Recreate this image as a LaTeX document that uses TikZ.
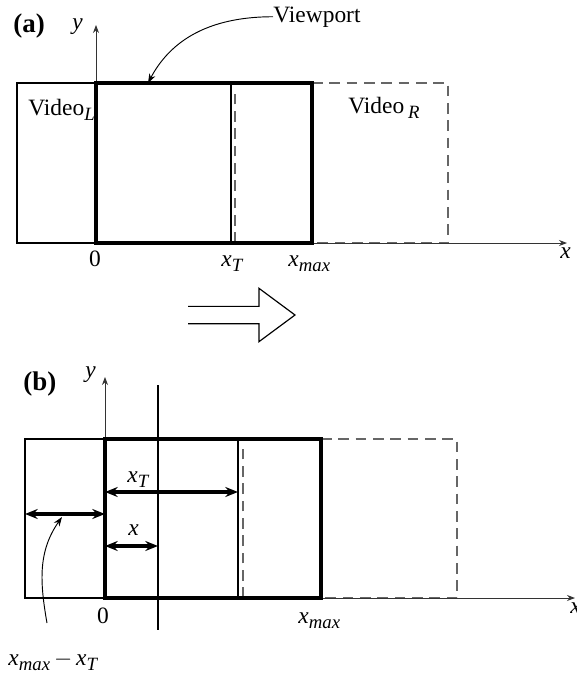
\documentclass[tikz,border=0pt]{standalone}
\usepackage{fontspec}
\setmainfont{Liberation Serif}
\usepackage{tikz}
\usetikzlibrary{
    arrows.meta,
    positioning,
    calc
}
\tikzset{
    frame/.style={
        draw=black,
        line width=0.5pt
    }
}
\tikzset{
    viewport/.style={
        draw=black,
        line width=1.4pt
    }
}
\tikzset{
    ghost/.style={
        draw=black!60,
        line width=0.5pt,
        dash pattern=on 1.6mm off 1mm
    }
}
\tikzset{
    axis/.style={
        draw=black!80,
        line width=0.4pt,
        -{Stealth[length=1.2mm,width=0.9mm]}
    }
}
\tikzset{
    pointer/.style={
        draw=black,
        line width=0.4pt,
        -{Stealth[length=1.4mm,width=1mm]}
    }
}
\tikzset{
    span/.style={
        draw=black,
        line width=1.3pt,
        {Stealth[length=1.9mm,width=1.5mm]}-{Stealth[length=1.9mm,width=1.5mm]}
    }
}
\tikzset{
    tag/.style={
        inner sep=0pt,
        anchor=base west
    }
}
\tikzset{
    panel/.style={
        inner sep=0pt,
        anchor=base west,
        font=\fontsize{11.5}{13}\selectfont\bfseries
    }
}
% lowered italic subscript, and a variable carrying one
\newcommand{\low}[1]{\raisebox{-0.55ex}{\footnotesize\itshape #1}}
\newcommand{\var}[2]{\textit{#1}\low{#2}}

\begin{document}
\begin{tikzpicture}[
    >=Stealth,
    font=\normalsize
]
\useasboundingbox (-14.4mm,36.45mm) rectangle (72.15mm,-65.1mm);

% ------------------------------------------------------------
% Panel (a): viewport at the start
% ------------------------------------------------------------

\coordinate (oa) at (0mm,0mm);
\coordinate (xenda) at (70.65mm,0mm);
\coordinate (yenda) at (0mm,32.7mm);
\coordinate (vptop) at (7.8mm,24mm);

\draw[frame] (-11.85mm,0mm) rectangle (0mm,24mm);
\draw[ghost] (32.4mm,24mm) -- (52.8mm,24mm) -- (52.8mm,0mm) -- (32.4mm,0mm);
\draw[axis] (oa) -- (xenda);
\draw[axis] (oa) -- (yenda);
\draw[frame] (20.25mm,0mm) -- (20.25mm,24mm);
\draw[ghost] (20.85mm,0mm) -- (20.85mm,23.2mm);
\draw[viewport] (oa) rectangle (32.4mm,24mm);

\node[panel] (taga) at (-12.45mm,31.65mm) {(a)};
\node[tag, font=\itshape] (ya) at (-3.6mm,32mm) {y};
\node[tag] (vidla) at (-10.2mm,19.2mm) {Video\low{L}};
\node[tag] (vidra) at (37.8mm,19.5mm) {Video\,\low{R}};
\node[tag] (vp) at (26.55mm,33.15mm) {Viewport};
\node[tag] (zeroa) at (-1.1mm,-3.45mm) {0};
\node[tag] (xta) at (18.75mm,-3.45mm) {\var{x}{T}};
\node[tag] (xmaxa) at (28.8mm,-3.45mm) {\var{x}{max}};
\node[tag] (xa) at (69.6mm,-2.25mm) {\textit{x}};

\draw[pointer] (vp.west) to[out=180,in=62] (vptop);

% ------------------------------------------------------------
% Hollow arrow between the panels
% ------------------------------------------------------------

\draw[line width=0.5pt] (13.8mm,-9.5mm) -- (24.45mm,-9.5mm) -- (24.45mm,-6.8mm)
    -- (29.85mm,-10.8mm) -- (24.45mm,-14.8mm) -- (24.45mm,-12.1mm) -- (13.8mm,-12.1mm);

% ------------------------------------------------------------
% Panel (b): viewport moved by x
% ------------------------------------------------------------

\coordinate (ob) at (1.35mm,-53.25mm);
\coordinate (xendb) at (71.85mm,-53.25mm);
\coordinate (yendb) at (1.35mm,-20.1mm);
\coordinate (cuttop) at (9.3mm,-21.3mm);
\coordinate (cutbot) at (9.3mm,-58.05mm);
\coordinate (leftb) at (-10.65mm,-40.65mm);
\coordinate (midb) at (1.35mm,-40.65mm);
\coordinate (xtb) at (21.3mm,-37.35mm);
\coordinate (xtstart) at (1.35mm,-37.35mm);
\coordinate (xb) at (9.3mm,-45.45mm);
\coordinate (xstart) at (1.35mm,-45.45mm);
\coordinate (gapfoot) at (-7.35mm,-57mm);
\coordinate (gaphead) at (-5.1mm,-41.1mm);

\draw[frame] (-10.65mm,-53.25mm) rectangle (1.35mm,-29.4mm);
\draw[ghost] (33.75mm,-29.4mm) -- (54.15mm,-29.4mm) -- (54.15mm,-53.25mm) -- (33.75mm,-53.25mm);
\draw[axis] (ob) -- (xendb);
\draw[axis] (ob) -- (yendb);
\draw[frame] (21.3mm,-53.25mm) -- (21.3mm,-29.4mm);
\draw[ghost] (22.05mm,-53.25mm) -- (22.05mm,-30.2mm);
\draw[viewport] (ob) rectangle (33.75mm,-29.4mm);
\draw[line width=0.8pt] (cuttop) -- (cutbot);

\draw[span] (xtstart) -- (xtb);
\draw[span] (xstart) -- (xb);
\draw[span] (leftb) -- (midb);

\node[panel] (tagb) at (-10.95mm,-22.05mm) {(b)};
\node[tag, font=\itshape] (yb) at (-1.65mm,-20.1mm) {y};
\node[tag] (xtlab) at (4.65mm,-35.85mm) {\var{x}{T}};
\node[tag] (xlab) at (4.8mm,-43.8mm) {\textit{x}};
\node[tag] (zerob) at (0.1mm,-57mm) {0};
\node[tag] (xmaxb) at (30.3mm,-57mm) {\var{x}{max}};
\node[tag] (xb) at (71.1mm,-55.5mm) {\textit{x}};
\node[tag] (gaplab) at (-13.2mm,-63.3mm) {\var{x}{max}\,$-$\,\var{x}{T}};

\draw[pointer] (gapfoot) to[out=100,in=235] (gaphead);

\end{tikzpicture}
\end{document}
